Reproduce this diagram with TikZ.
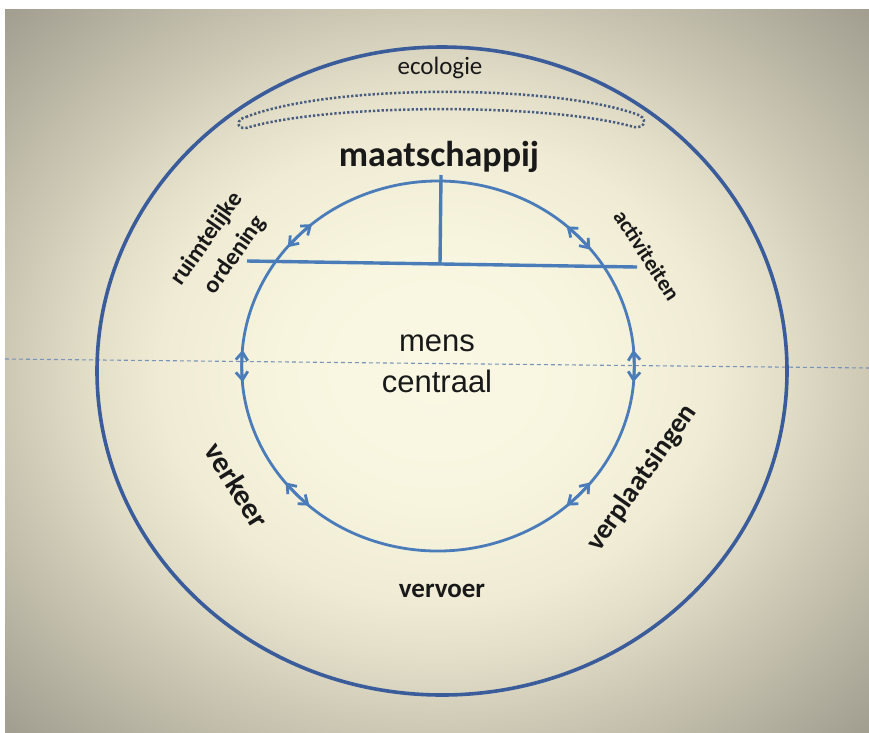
\documentclass[tikz,border=0pt]{standalone}
\usepackage{fontspec}
\setmainfont{Carlito}
\newfontfamily\arialfont{Liberation Sans}
\usetikzlibrary{arrows.meta}
\definecolor{bgA}{RGB}{250,247,228}
\definecolor{bgB}{RGB}{248,245,223}
\definecolor{bgC}{RGB}{239,235,213}
\definecolor{bgD}{RGB}{227,222,200}
\definecolor{bgE}{RGB}{205,200,180}
\definecolor{bgF}{RGB}{162,159,145}
\definecolor{ringblue}{RGB}{58,92,155}
\definecolor{linkblue}{RGB}{74,124,186}
\definecolor{dotblue}{RGB}{72,92,128}
\definecolor{dashblue}{RGB}{120,148,185}
\definecolor{txt}{RGB}{25,25,25}
\pgfdeclareradialshading{bgshade}{\pgfpoint{0bp}{0bp}}{color(0bp)=(bgA); color(9bp)=(bgB); color(16bp)=(bgC); color(20bp)=(bgD); color(25bp)=(bgE); color(35bp)=(bgF); color(50bp)=(bgF)}
\tikzset{
  outerring/.style={draw=ringblue, line width=3.6pt},
  linkarrow/.style={draw=linkblue, line width=2.8pt, {Straight Barb[length=8pt,width=12pt]}-{Straight Barb[length=8pt,width=12pt]}},
  tbar/.style={draw=linkblue, line width=3.4pt},
  dottedband/.style={draw=dotblue, line width=2.5pt, dash pattern=on 2.3pt off 2pt},
  axisline/.style={draw=dashblue, line width=1.1pt, dash pattern=on 4pt off 3pt},
  lbl/.style={text=txt, font=\bfseries, inner sep=0pt},
}
\begin{document}
\begin{tikzpicture}[x=1pt,y=-1pt]
\useasboundingbox (0,0) rectangle (869,732);
\fill[white] (0,0) rectangle (869,732);
\shade[shading=bgshade] (5,9) rectangle (869,732);
% centres
\coordinate (oc) at (442,371);
\coordinate (ic) at (438,366);
% horizontal dashed axis
\coordinate (axL) at (5,359);
\coordinate (axR) at (869,368);
\draw[axisline] (axL) -- (axR);
% outer ring
\draw[outerring] (oc) ellipse [x radius=345, y radius=324];
% dotted band under ecologie
\draw[dottedband] (246,117) .. controls (330,84) and (550,84) .. (636,114)
  .. controls (648,117) and (646,129) .. (634,127)
  .. controls (550,103) and (330,103) .. (246,128)
  .. controls (236,129) and (236,119) .. (246,117) -- cycle;
% inner ring made of double arrows
\draw[linkarrow] (ic) ++(49:196 and 185) arc[start angle=49, end angle=-5, x radius=196, y radius=185];
\draw[linkarrow] (ic) ++(5:196 and 185) arc[start angle=5, end angle=-49, x radius=196, y radius=185];
\draw[linkarrow] (ic) ++(-39:196 and 185) arc[start angle=-39, end angle=-140, x radius=196, y radius=185];
\draw[linkarrow] (ic) ++(-130:196 and 185) arc[start angle=-130, end angle=-185, x radius=196, y radius=185];
\draw[linkarrow] (ic) ++(-175:196 and 185) arc[start angle=-175, end angle=-229, x radius=196, y radius=185];
\draw[linkarrow] (ic) ++(-219:196 and 185) arc[start angle=-219, end angle=-321, x radius=196, y radius=185];
% T bar
\coordinate (tL) at (247,261);
\coordinate (tR) at (637,267);
\coordinate (tTop) at (441,175);
\coordinate (tFoot) at (440,264);
\draw[tbar] (tL) -- (tR);
\draw[tbar] (tTop) -- (tFoot);
% labels
\node[text=txt, inner sep=0pt, font=\fontsize{25}{30}\selectfont] (eco) at (440,68) {ecologie};
\node[lbl, font=\bfseries\fontsize{36}{42}\selectfont] (maat) at (439,157) {maatschappij};
\node[lbl, font=\bfseries\fontsize{24}{28}\selectfont, rotate=55] (ruim) at (207,239) {ruimtelijke};
\node[lbl, font=\bfseries\fontsize{24}{28}\selectfont, rotate=55] (orde) at (235,255) {ordening};
\node[lbl, font=\bfseries\fontsize{22}{26}\selectfont, rotate=-57] (act) at (647,255) {activiteiten};
\node[text=txt, inner sep=0pt, font=\arialfont\fontsize{31}{38}\selectfont] (mens) at (437,343) {mens};
\node[text=txt, inner sep=0pt, font=\arialfont\fontsize{31}{38}\selectfont] (centr) at (437,381) {centraal};
\node[lbl, font=\bfseries\fontsize{30}{36}\selectfont, rotate=-58] (verk) at (237,485) {verkeer};
\node[lbl, font=\bfseries\fontsize{28}{34}\selectfont, rotate=55] (verp) at (642,478) {verplaatsingen};
\node[lbl, font=\bfseries\fontsize{27}{32}\selectfont] (verv) at (442,591) {vervoer};
\end{tikzpicture}
\end{document}
